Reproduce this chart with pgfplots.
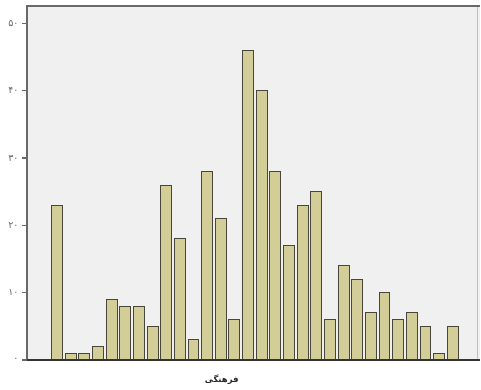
\documentclass[border=0pt]{standalone}
\usepackage{pgfplots}
\pgfplotsset{compat=1.18}
\usepackage{fontspec}
\newfontfamily\arabicfont[Script=Arabic]{DejaVu Sans}
\TeXXeTstate=1
\definecolor{bg}{RGB}{240,240,240}
\definecolor{barfill}{RGB}{211,205,152}
\definecolor{baredge}{RGB}{72,70,58}
\definecolor{frame}{RGB}{105,105,105}
\begin{document}
\begin{tikzpicture}
\begin{axis}[
  scale only axis, width=453bp, height=354bp,
  xmin=-1.2, xmax=32, ymin=0, ymax=52.6,
  axis background/.style={fill=bg},
  axis line style={draw=none},
  xtick=\empty,
  ytick={0,10,20,30,40,50},
  yticklabels={۰,۱۰,۲۰,۳۰,۴۰,۵۰},
  ytick pos=left,
  tick align=outside,
  major tick length=5bp,
  tick style={draw=frame, line width=1.2bp},
  yticklabel style={font=\arabicfont\fontsize{9.5}{10}\selectfont, text=black!60, xshift=0bp},
  ybar, bar width=0.8,
  clip=false,
]
\addplot[fill=barfill, draw=baredge, line width=0.9bp] coordinates {
(1,23) (2,1) (3,1) (4,2) (5,9) (6,8) (7,8) (8,5) (9,26) (10,18)
(11,3) (12,28) (13,21) (14,6) (15,46) (16,40) (17,28) (18,17) (19,23) (20,25)
(21,6) (22,14) (23,12) (24,7) (25,10) (26,6) (27,7) (28,5) (29,1) (30,5)
};
\draw[draw=black!25, line width=0.6bp] (rel axis cs:0.995,0) -- (rel axis cs:0.995,1);
\draw[draw=frame, line width=1.3bp] (rel axis cs:0,0) -- (rel axis cs:0,1) -- (rel axis cs:1,1);
\draw[draw=black!80, line width=1.3bp] (rel axis cs:0,0) -- (rel axis cs:1,0);
\coordinate (O) at (rel axis cs:0,0);
\node[font=\arabicfont\bfseries\fontsize{8.5}{10}\selectfont, text=black!85] at (rel axis cs:0.43,0) [yshift=-20bp] {\beginR فرهنگی\endR};
\end{axis}
\pgfresetboundingbox
\path (O) ++(-27bp,-30bp) rectangle ++(481bp,390bp);
\end{tikzpicture}
\end{document}
